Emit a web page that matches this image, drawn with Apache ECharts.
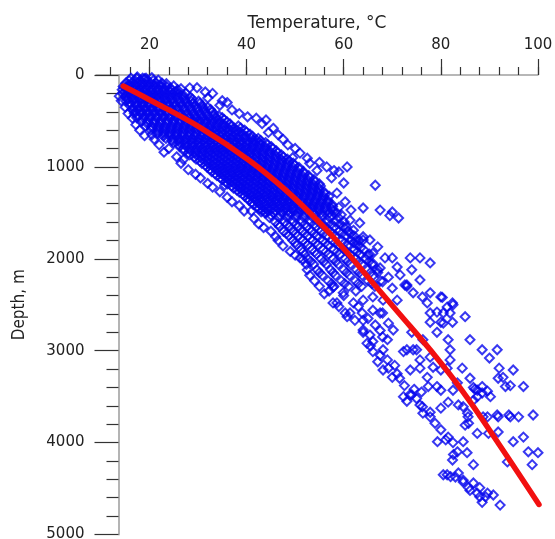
<!DOCTYPE html>
<html>
<head>
<meta charset="utf-8">
<script src="https://cdn.jsdelivr.net/npm/echarts@6/dist/echarts.min.js"></script>
<style>
html,body{margin:0;padding:0;background:#fff;}
#chart{width:555px;height:539px;}
</style>
</head>
<body>
<div id="chart"></div>
<script>
// ---- Data ----
// Dense core of the measurements: [depth m, [temperatures °C]]
const coreRows = [
  [35, [16.2, 17.4, 18.6, 19.3]],
  [60, [15.8, 17.0, 18.1, 19.5, 20.8]],
  [90, [15.1, 16.3, 17.6, 18.9, 20.2, 21.4, 22.6]],
  [125, [14.6, 15.9, 17.2, 18.4, 19.7, 21.0, 22.3, 23.5]],
  [160, [14.4, 15.5, 16.8, 18.0, 19.3, 20.6, 21.8, 23.1, 24.6, 25.8]],
  [200, [14.5, 15.7, 17.0, 18.3, 19.5, 20.9, 22.2, 23.4, 24.8, 26.1, 27.5]],
  [240, [15.0, 16.4, 17.7, 19.0, 20.3, 21.5, 22.9, 24.2, 25.6, 27.0, 28.4]],
  [285, [15.2, 16.6, 18.0, 19.2, 20.5, 21.9, 23.2, 24.5, 25.9, 27.3, 28.6, 30.1]],
  [330, [15.9, 17.3, 18.6, 19.9, 21.2, 22.6, 23.9, 25.3, 26.6, 28.0, 29.4, 30.8]],
  [375, [16.4, 17.6, 19.0, 20.4, 21.7, 23.0, 24.4, 25.7, 27.1, 28.5, 29.8, 31.2, 32.6]],
  [420, [16.9, 18.3, 19.6, 20.9, 22.3, 23.6, 25.0, 26.3, 27.7, 29.0, 30.4, 31.7, 33.3]],
  [465, [17.4, 18.8, 20.1, 21.5, 22.8, 24.2, 25.5, 26.9, 28.2, 29.6, 30.9, 32.3, 33.7, 35.0]],
  [510, [18.3, 19.6, 21.0, 22.3, 23.7, 25.0, 26.4, 27.7, 29.1, 30.4, 31.8, 33.1, 34.5, 36.0]],
  [555, [19.2, 20.5, 21.9, 23.2, 24.6, 25.9, 27.3, 28.6, 30.0, 31.3, 32.7, 34.0, 35.4, 36.8, 38.3]],
  [600, [20.3, 21.8, 23.1, 24.5, 25.8, 27.2, 28.5, 29.9, 31.2, 32.6, 33.9, 35.3, 36.6, 38.0, 39.6]],
  [645, [21.6, 23.0, 24.3, 25.7, 27.0, 28.4, 29.7, 31.1, 32.4, 33.8, 35.1, 36.5, 37.8, 39.2, 40.7]],
  [690, [23.4, 24.8, 26.1, 27.5, 28.8, 30.2, 31.5, 32.9, 34.2, 35.6, 36.9, 38.3, 39.6, 41.0, 42.4]],
  [735, [25.0, 26.3, 27.7, 29.0, 30.4, 31.7, 33.1, 34.4, 35.8, 37.1, 38.5, 39.8, 41.2, 42.6, 43.9]],
  [780, [26.2, 27.6, 28.9, 30.3, 31.6, 33.0, 34.3, 35.7, 37.0, 38.4, 39.7, 41.1, 42.4, 43.8, 45.1]],
  [825, [27.1, 28.5, 29.8, 31.2, 32.5, 33.9, 35.2, 36.6, 37.9, 39.3, 40.6, 42.0, 43.3, 44.7, 46.1]],
  [870, [28.3, 29.7, 31.0, 32.4, 33.7, 35.1, 36.4, 37.8, 39.1, 40.5, 41.8, 43.2, 44.5, 45.9, 47.2]],
  [915, [29.6, 30.9, 32.3, 33.6, 35.0, 36.3, 37.7, 39.0, 40.4, 41.7, 43.1, 44.4, 45.8, 47.1, 48.4]],
  [960, [30.8, 32.1, 33.5, 34.8, 36.2, 37.5, 38.9, 40.2, 41.6, 42.9, 44.3, 45.6, 47.0, 48.3, 49.6]],
  [1005, [31.9, 33.3, 34.6, 36.0, 37.3, 38.7, 40.0, 41.4, 42.7, 44.1, 45.4, 46.8, 48.1, 49.5, 50.8]],
  [1050, [32.8, 34.2, 35.5, 36.9, 38.2, 39.6, 40.9, 42.3, 43.6, 45.0, 46.3, 47.7, 49.0, 50.4, 51.7]],
  [1095, [33.9, 35.3, 36.6, 38.0, 39.3, 40.7, 42.0, 43.4, 44.7, 46.1, 47.4, 48.8, 50.1, 51.5, 52.8]],
  [1140, [35.0, 36.4, 37.7, 39.1, 40.4, 41.8, 43.1, 44.5, 45.8, 47.2, 48.5, 49.9, 51.2, 52.6, 53.9]],
  [1185, [36.1, 37.5, 38.8, 40.2, 41.5, 42.9, 44.2, 45.6, 46.9, 48.3, 49.6, 51.0, 52.3, 53.7, 55.0]],
  [1230, [37.3, 38.7, 40.0, 41.4, 42.7, 44.1, 45.4, 46.8, 48.1, 49.5, 50.8, 52.2, 53.5, 54.9]],
  [1275, [38.5, 39.9, 41.2, 42.6, 43.9, 45.3, 46.6, 48.0, 49.3, 50.7, 52.0, 53.4, 54.7, 56.0]],
  [1320, [39.6, 41.0, 42.3, 43.7, 45.0, 46.4, 47.7, 49.1, 50.4, 51.8, 53.1, 54.5, 55.8, 57.0]],
  [1365, [40.5, 41.9, 43.2, 44.6, 45.9, 47.3, 48.6, 50.0, 51.3, 52.7, 54.0, 55.4, 56.7]],
  [1410, [41.4, 42.8, 44.1, 45.5, 46.8, 48.2, 49.5, 50.9, 52.2, 53.6, 54.9, 56.3, 57.6]],
  [1455, [42.6, 44.0, 45.3, 46.7, 48.0, 49.4, 50.7, 52.1, 53.4, 54.8, 56.1, 57.5]],
  [1500, [43.8, 45.5, 47.2, 48.8, 50.5, 52.1, 53.8, 55.4, 57.0, 58.6]],
  [1525, [45.0, 46.9, 48.6, 50.3, 52.0, 53.9, 55.6, 57.6]],
  [1550, [44.7, 46.6, 48.3, 50.1, 51.8, 53.6, 55.3, 57.1, 58.9]],
  [1600, [45.9, 47.8, 49.6, 51.3, 53.1, 54.8, 56.6, 58.3, 60.1]],
  [1625, [46.5, 48.3, 50.2, 52.0, 53.9, 55.6, 57.4, 59.2]],
  [1650, [46.8, 48.9, 50.7, 52.5, 54.4, 56.2, 58.1, 59.9]],
  [1700, [47.6, 49.5, 51.4, 53.3, 55.2, 57.1, 59.0, 60.9]],
  [1725, [48.2, 50.1, 52.0, 53.9, 55.8, 57.7, 59.6, 61.4]],
  [1750, [48.7, 50.6, 52.6, 54.5, 56.5, 58.4, 60.4, 62.1]],
  [1800, [49.5, 51.6, 53.6, 55.7, 57.6, 59.6, 61.5, 63.2]],
  [1825, [50.0, 52.1, 54.2, 56.2, 58.2, 60.2, 62.1]],
  [1850, [50.3, 52.6, 54.7, 56.8, 58.9, 60.9, 62.8]],
  [1900, [51.2, 53.5, 55.8, 58.0, 60.1, 62.2, 64.1]],
  [1925, [51.6, 54.0, 56.3, 58.6, 60.7, 62.8]],
  [1950, [52.0, 54.4, 56.9, 59.2, 61.3, 63.4, 65.3]],
  [2000, [52.6, 55.3, 57.8, 60.3, 62.5, 64.6]],
  [2030, [53.2, 55.9, 58.4, 60.8, 63.1, 65.2]],
  [2060, [53.8, 56.4, 58.9, 61.4, 63.7, 65.8]],
  [2120, [54.5, 57.3, 60.0, 62.6, 64.9, 67.0]],
  [2150, [55.0, 57.8, 60.6, 63.2, 65.5]],
  [2180, [55.6, 58.3, 61.2, 63.8, 66.1]],
  [2240, [56.8, 59.5, 62.4, 65.0, 67.6]],
  [2270, [57.5, 60.2, 63.0, 65.8]],
  [2300, [58.0, 61.0, 63.7, 66.4]]
];

// Further rows of the dense core, lying between the rows above
const coreRowsBetween = [
  [108, [15.7, 17.0, 18.3, 19.6, 20.9, 22.2]],
  [142, [15.2, 16.5, 17.8, 19.1, 20.4, 21.7, 23.0, 24.3]],
  [180, [15.1, 16.4, 17.7, 19.0, 20.3, 21.6, 22.9, 24.2, 25.5]],
  [220, [15.3, 16.6, 17.9, 19.2, 20.5, 21.8, 23.1, 24.4, 25.7, 27.0]],
  [262, [15.6, 16.9, 18.2, 19.5, 20.8, 22.1, 23.4, 24.7, 26.0, 27.3, 28.8]],
  [307, [16.0, 17.3, 18.6, 19.9, 21.2, 22.5, 23.8, 25.1, 26.4, 27.7, 29.0, 30.4]],
  [352, [16.7, 18.0, 19.3, 20.6, 21.9, 23.2, 24.5, 25.8, 27.1, 28.4, 29.7, 31.0, 32.0]],
  [397, [17.1, 18.4, 19.7, 21.0, 22.3, 23.6, 24.9, 26.2, 27.5, 28.8, 30.1, 31.4, 32.8]],
  [442, [17.6, 18.9, 20.2, 21.5, 22.8, 24.1, 25.4, 26.7, 28.0, 29.3, 30.6, 31.9, 33.2, 34.3]],
  [487, [18.5, 19.8, 21.1, 22.4, 23.7, 25.0, 26.3, 27.6, 28.9, 30.2, 31.5, 32.8, 34.1, 35.4]],
  [532, [19.6, 20.9, 22.2, 23.5, 24.8, 26.1, 27.4, 28.7, 30.0, 31.3, 32.6, 33.9, 35.2, 36.6]],
  [577, [20.5, 21.8, 23.1, 24.4, 25.7, 27.0, 28.3, 29.6, 30.9, 32.2, 33.5, 34.8, 36.1, 37.4, 38.8]],
  [622, [21.7, 23.0, 24.3, 25.6, 26.9, 28.2, 29.5, 30.8, 32.1, 33.4, 34.7, 36.0, 37.3, 38.6, 40.0]],
  [667, [22.9, 24.2, 25.5, 26.8, 28.1, 29.4, 30.7, 32.0, 33.3, 34.6, 35.9, 37.2, 38.5, 39.8, 41.2]],
  [712, [24.6, 25.9, 27.2, 28.5, 29.8, 31.1, 32.4, 33.7, 35.0, 36.3, 37.6, 38.9, 40.2, 41.5, 42.9]],
  [757, [26.0, 27.3, 28.6, 29.9, 31.2, 32.5, 33.8, 35.1, 36.4, 37.7, 39.0, 40.3, 41.6, 42.9, 44.3]],
  [802, [27.0, 28.3, 29.6, 30.9, 32.2, 33.5, 34.8, 36.1, 37.4, 38.7, 40.0, 41.3, 42.6, 43.9, 45.4]],
  [847, [28.0, 29.3, 30.6, 31.9, 33.2, 34.5, 35.8, 37.1, 38.4, 39.7, 41.0, 42.3, 43.6, 44.9, 46.4]],
  [892, [29.2, 30.5, 31.8, 33.1, 34.4, 35.7, 37.0, 38.3, 39.6, 40.9, 42.2, 43.5, 44.8, 46.1, 47.6]],
  [937, [30.4, 31.7, 33.0, 34.3, 35.6, 36.9, 38.2, 39.5, 40.8, 42.1, 43.4, 44.7, 46.0, 47.3, 48.8]],
  [982, [31.5, 32.8, 34.1, 35.4, 36.7, 38.0, 39.3, 40.6, 41.9, 43.2, 44.5, 45.8, 47.1, 48.4, 49.9]],
  [1027, [32.5, 33.8, 35.1, 36.4, 37.7, 39.0, 40.3, 41.6, 42.9, 44.2, 45.5, 46.8, 48.1, 49.4, 50.9]],
  [1072, [33.5, 34.8, 36.1, 37.4, 38.7, 40.0, 41.3, 42.6, 43.9, 45.2, 46.5, 47.8, 49.1, 50.4, 51.9]],
  [1117, [34.6, 35.9, 37.2, 38.5, 39.8, 41.1, 42.4, 43.7, 45.0, 46.3, 47.6, 48.9, 50.2, 51.5, 53.0]],
  [1162, [35.7, 37.0, 38.3, 39.6, 40.9, 42.2, 43.5, 44.8, 46.1, 47.4, 48.7, 50.0, 51.3, 52.6, 54.1]],
  [1207, [36.9, 38.2, 39.5, 40.8, 42.1, 43.4, 44.7, 46.0, 47.3, 48.6, 49.9, 51.2, 52.5, 53.8, 55.2]],
  [1252, [38.0, 39.3, 40.6, 41.9, 43.2, 44.5, 45.8, 47.1, 48.4, 49.7, 51.0, 52.3, 53.6, 55.0]],
  [1297, [39.2, 40.5, 41.8, 43.1, 44.4, 45.7, 47.0, 48.3, 49.6, 50.9, 52.2, 53.5, 54.8, 56.2]],
  [1342, [40.2, 41.5, 42.8, 44.1, 45.4, 46.7, 48.0, 49.3, 50.6, 51.9, 53.2, 54.5, 55.8]],
  [1387, [41.1, 42.4, 43.7, 45.0, 46.3, 47.6, 48.9, 50.2, 51.5, 52.8, 54.1, 55.4, 56.8]],
  [1432, [42.1, 43.4, 44.7, 46.0, 47.3, 48.6, 49.9, 51.2, 52.5, 53.8, 55.1, 56.4, 57.7]],
  [1477, [43.3, 44.6, 45.9, 47.2, 48.5, 49.8, 51.1, 52.4, 53.7, 55.0, 56.3, 57.8]]
];

// Scattered individual measurements: [temperature °C, depth m]
const sparsePoints = [
  [17.5,22],[19.0,40],[20.5,30],[21.8,55],[23.5,95],[25.0,120],[26.5,150],[28.3,140],[29.8,138],[31.5,185],
  [33.0,200],[32.0,250],[35.0,280],[34.5,330],[37.0,380],[36.0,300],[38.5,420],[40.2,455],[42.0,470],[44.0,490],
  [43.2,530],[45.5,580],[44.5,625],[46.5,650],[42.0,707],[47.5,700],[48.5,760],[50.0,800],[51.0,850],[49.5,900],
  [52.5,905],[53.0,960],[55.0,950],[56.5,1000],[54.5,1040],[58.0,1040],[60.7,1000],[59.0,1055],[57.5,1120],[60.0,1175],
  [58.6,1285],[66.5,1200],[60.3,1380],[59.0,1440],[61.5,1470],[64.0,1447],[67.5,1470],[70.0,1490],[71.3,1556],[69.5,1530],
  [13.8,230],[14.2,280],[15.0,350],[15.6,420],[16.5,470],[17.2,540],[18.0,600],[19.0,660],[20.5,650],[21.0,700],
  [22.0,760],[23.0,840],[24.0,800],[25.6,890],[26.5,960],[28.0,1030],[27.0,920],[29.5,1080],[30.5,1120],[32.0,1180],
  [33.0,1220],[35.5,1200],[34.5,1270],[36.0,1330],[38.6,1230],[37.0,1380],[38.5,1420],[39.5,1480],[41.0,1480],[43.0,1490],
  [44.0,1500],[41.5,1560],[42.5,1620],[43.5,1660],[45.0,1700],[46.0,1760],[46.5,1800],[47.5,1860],[49.0,1920],[50.0,1960],
  [51.6,2010],[51.0,1990],[52.3,2060],[52.5,2120],[53.0,2180],[54.0,2240],[55.0,2300],[56.0,2380],[57.0,2350],[57.8,2480],
  [58.6,2480],[57.8,2310],[59.9,2370],[60.3,2590],[60.7,2630],[61.3,2590],[62.0,2480],[62.3,2670],[63.8,2590],[64.0,2450],
  [64.0,2775],[64.0,2670],[64.0,2800],[65.4,2830],[64.8,2920],[66.0,2900],[66.0,2415],[66.0,2560],[66.0,3010],[67.0,3120],
  [68.1,2990],[68.1,3210],[69.2,3190],[70.0,3290],[71.0,3250],[72.3,3500],[74.0,3480],[73.6,3480],[75.0,3520],[75.7,3590],
  [76.2,3610],[76.3,3680],[77.8,3720],[78.8,3790],[80.0,3860],[81.0,3970],[79.3,3990],[82.6,4130],[83.4,4100],[81.3,4350],
  [80.5,4350],[82.0,4370],[83.0,4375],[83.6,4330],[84.6,4410],[84.6,4430],[86.0,4520],[86.7,4440],[85.7,4490],[88.0,4490],
  [87.5,4550],[88.0,4590],[89.6,4550],[89.2,4590],[88.5,4650],[90.8,4570],[92.2,4680],
  [61.3,1580],[63.3,1610],[62.0,1690],[64.0,1760],[65.4,1795],[64.0,1795],[67.0,1870],[66.0,1940],[68.5,1990],[70.0,1990],
  [73.7,1990],[75.7,1990],[77.8,2045],[67.5,2100],[71.0,2090],[69.2,2200],[71.6,2175],[74.0,2120],[75.7,2230],[72.6,2285],
  [73.0,2285],[74.3,2370],[76.2,2415],[77.8,2370],[80.0,2415],[80.3,2420],[77.2,2480],[79.2,2580],[81.3,2525],[81.9,2590],
  [82.4,2480],[82.5,2500],[80.5,2590],[77.8,2690],[80.0,2690],[82.4,2690],[85.0,2630],[68.1,2450],[71.0,2450],[70.0,2320],
  [73.0,2300],[67.5,2590],[68.0,2590],[69.2,2700],[70.2,2775],[69.0,2880],[72.3,3010],[73.0,2990],[74.3,2990],[75.0,2990],
  [75.7,3100],[73.7,3210],[74.0,2800],[76.3,2880],[77.8,2590],[79.2,2800],[80.5,2700],[81.5,2880],[81.9,2990],[81.9,3100],
  [77.8,3070],[78.4,3180],[80.0,3210],[75.7,3190],[77.2,3290],[77.4,3390],[79.2,3390],[81.3,3190],[83.4,3350],[84.4,3190],
  [86.0,2880],[86.0,3300],[88.5,2990],[90.0,3080],[91.6,2990],[92.0,3190],[94.9,3210],[92.8,3290],[91.8,3300],[88.5,3390],
  [93.3,3390],[94.3,3380],[97.0,3390],[80.0,3430],[82.5,3430],[84.6,3610],[81.5,3560],[86.7,3400],[87.0,3420],[87.5,3430],
  [88.5,3460],[87.5,3500],[86.7,3540],[89.6,3440],[90.2,3500],[83.6,3590],[85.5,3680],[85.6,3720],[85.7,3790],[85.0,3810],
  [88.7,3720],[89.6,3720],[91.6,3700],[91.8,3720],[94.0,3700],[94.3,3720],[96.0,3720],[99.0,3700],[87.5,3900],[89.8,3900],
  [91.8,3885],[81.5,3940],[82.5,4000],[84.6,3990],[82.4,4190],[85.4,4110],[86.7,4240],[94.9,3990],[97.0,3940],[98.0,4100],
  [100.0,4110],[98.8,4240],[93.7,4210],[77.8,3670],[80.0,3625],[73.0,3550],
  [60.0,2400],[62.5,2350],[59.0,2520],[63.0,2520],[65.0,2650],[66.5,2720],[67.5,2780],[68.0,2850],[65.5,2950],[67.5,3050],
  [69.0,3100],[70.5,3160],[71.5,3300],[72.5,3380],[74.5,3420],[76.0,3450],
  [59.5,1520],[60.5,1650],[62.5,1800],[63.5,1880],[65.0,1960],[66.0,2050],[67.0,2150],[68.0,2250]
];

// Red trend curve
const trendTemp  = [14.6, 20.1, 30.4, 40.7, 48.0, 55.1, 61.0, 65.4, 71.5, 77.8, 84.6, 92.0, 100.2];
const trendDepth = [120, 272, 570, 935, 1250, 1610, 1950, 2225, 2600, 2990, 3450, 4020, 4673];

// Axis ticks
const xLabelValues = [20, 40, 60, 80, 100];
const xMinorTickValues = [12, 16, 20, 24, 28, 32, 36, 40, 44, 48, 52, 56, 60, 64, 68, 72, 76, 80, 84, 88, 92, 96, 100];
const yMin = 0, yMax = 5000, yStep = 1000;
const xMin = 9, xMax = 100;

// ---- Build series data ----
const scatterData = [];
coreRows.concat(coreRowsBetween).forEach(function (row) {
  row[1].forEach(function (t) { scatterData.push([t, row[0]]); });
});
sparsePoints.forEach(function (p) { scatterData.push(p); });
const trendData = trendTemp.map(function (t, i) { return [t, trendDepth[i]]; });

const font = "'DejaVu Sans', Verdana, sans-serif";
const chart = echarts.init(document.getElementById('chart'), null, { renderer: 'canvas' });
chart.setOption({
  animation: false,
  backgroundColor: '#ffffff',
  grid: { left: 96, right: 17, top: 75, bottom: 4.5, containLabel: false, outerBoundsMode: 'none' },
  xAxis: [
    {
      type: 'value', position: 'top', min: xMin, max: xMax,
      name: 'Temperature, \u00B0C', nameLocation: 'middle', nameGap: 43,
      nameTextStyle: { fontFamily: font, fontSize: 17, color: '#222' },
      axisLine: { show: true, lineStyle: { color: '#a0a0a0', width: 1.5 } },
      axisTick: { show: true, customValues: xLabelValues, length: 16, inside: false, lineStyle: { color: '#333', width: 1.2 } },
      axisLabel: { show: true, customValues: xLabelValues, margin: 22, fontFamily: font, fontSize: 15, color: '#222' },
      splitLine: { show: false }
    },
    {
      type: 'value', position: 'top', min: xMin, max: xMax,
      axisLine: { show: false },
      axisTick: { show: true, customValues: xMinorTickValues, length: 8, inside: false, lineStyle: { color: '#333', width: 1.2 } },
      axisLabel: { show: false },
      splitLine: { show: false }
    }
  ],
  yAxis: {
    type: 'value', inverse: true, min: yMin, max: yMax, interval: yStep, offset: -22.5,
    name: 'Depth, m', nameLocation: 'middle', nameGap: 90, nameRotate: 90,
    nameTextStyle: { fontFamily: "'Liberation Sans Narrow', 'Arial Narrow', 'DejaVu Sans Condensed', sans-serif", fontSize: 17, color: '#222' },
    axisLine: { show: true, lineStyle: { color: '#b4b4b4', width: 2 } },
    axisTick: { show: true, length: 24, lineStyle: { color: '#333', width: 1.2 } },
    minorTick: { show: true, splitNumber: 5, length: 12, lineStyle: { color: '#333', width: 1.2 } },
    axisLabel: { margin: 34, fontFamily: font, fontSize: 15, color: '#222', formatter: function (v) { return String(v); } },
    splitLine: { show: false },
    minorSplitLine: { show: false }
  },
  series: [
    {
      type: 'scatter', xAxisIndex: 0, yAxisIndex: 0,
      symbol: 'diamond', symbolSize: 9,
      itemStyle: { color: 'rgba(0,0,0,0)', borderColor: '#0606ee', borderWidth: 2 },
      data: scatterData, z: 2, silent: true
    },
    {
      type: 'line', xAxisIndex: 0, yAxisIndex: 0,
      smooth: 0.4, showSymbol: false, symbol: 'none',
      lineStyle: { color: '#f21010', width: 5.5, cap: 'round' },
      data: trendData, z: 5, silent: true
    }
  ]
});
</script>
</body>
</html>
